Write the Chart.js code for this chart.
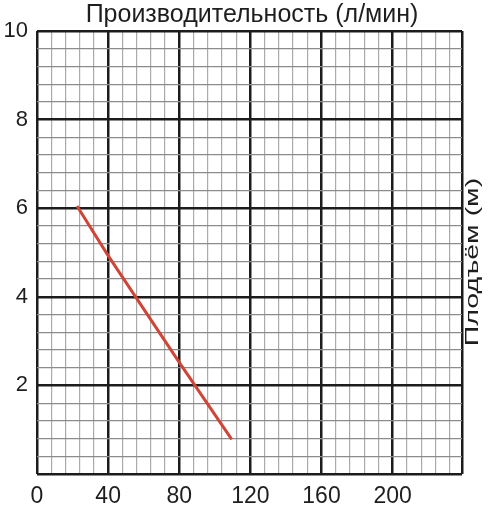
<!DOCTYPE html>
<html>
<head>
<meta charset="utf-8">
<script src="https://cdn.jsdelivr.net/npm/chart.js@4/dist/chart.umd.min.js"></script>
<style>
    html, body { margin: 0; padding: 0; background: #fff; }
</style>
</head>
<body>
<canvas id="chart" width="490" height="507"></canvas>
<script>
"use strict";

// pump curve
var flowValues = [22.5, 40, 80, 109.5];      // л/мин
var headValues = [6.05, 4.93, 2.52, 0.78];   // м

var xTickLabels = [0, 40, 80, 120, 160, 200];
var yTickLabels = [2, 4, 6, 8, 10];
var xTitle = 'Производительность (л/мин)';
var yTitle = 'Плодъём (м)';

var xMax = 239;

var isXMajor = function (v) {
    return v % 40 === 0 || v === xMax;
};
var isYMajor = function (v) {
    return Math.abs(v / 2 - Math.round(v / 2)) < 1e-6;
};

var titles = {
    id: 'axisTitles',
    afterDraw: function (chart) {
        var c = chart.ctx;
        c.save();
        c.fillStyle = '#1e1e1e';
        c.textAlign = 'center';
        c.font = '25px "Liberation Sans", Arial, sans-serif';
        c.textBaseline = 'alphabetic';
        c.fillText(xTitle, 252, 22);
        c.translate(473, 262);
        c.rotate(-Math.PI / 2);
        c.scale(1.5, 1);
        c.font = '19px "Liberation Sans", Arial, sans-serif';
        c.textBaseline = 'middle';
        c.fillText(yTitle, 0, 0);
        c.restore();
    }
};

new Chart(document.getElementById('chart'), {
    type: 'line',
    data: {
        datasets: [{
            data: flowValues.map(function (x, i) { return { x: x, y: headValues[i] }; }),
            borderColor: '#cf4538',
            borderWidth: 3,
            pointRadius: 0,
            tension: 0,
            fill: false
        }]
    },
    options: {
        responsive: false,
        animation: false,
        layout: { padding: { top: 31, right: 28, left: 0, bottom: 0 } },
        plugins: {
            legend: { display: false },
            tooltip: { enabled: false }
        },
        scales: {
            x: {
                type: 'linear',
                min: 0,
                max: xMax,
                afterBuildTicks: function (scale) {
                    var t = [];
                    for (var v = 0; v < xMax; v += 8) t.push({ value: v });
                    t.push({ value: xMax });
                    scale.ticks = t;
                },
                afterFit: function (scale) { scale.height = 33; },
                border: { display: false },
                grid: {
                    drawTicks: false,
                    color: function (ctx) { return isXMajor(ctx.tick.value) ? '#1c1c1c' : '#ababab'; },
                    lineWidth: function (ctx) { return isXMajor(ctx.tick.value) ? 2.5 : 1.2; }
                },
                ticks: {
                    autoSkip: false,
                    maxRotation: 0,
                    padding: 9,
                    color: '#1e1e1e',
                    font: { family: '"Liberation Sans", Arial, sans-serif', size: 23 },
                    callback: function (v) { return xTickLabels.indexOf(v) >= 0 ? String(v) : ''; }
                }
            },
            y: {
                min: 0,
                max: 10,
                afterBuildTicks: function (scale) {
                    var t = [];
                    for (var i = 0; i <= 25; i++) t.push({ value: Math.round(i * 4) / 10 });
                    scale.ticks = t;
                },
                afterFit: function (scale) { scale.width = 37; },
                border: { display: false },
                grid: {
                    drawTicks: false,
                    color: function (ctx) { return isYMajor(ctx.tick.value) ? '#1c1c1c' : '#8c8c8c'; },
                    lineWidth: function (ctx) { return isYMajor(ctx.tick.value) ? 2.5 : 1.2; }
                },
                ticks: {
                    autoSkip: false,
                    padding: 9,
                    color: '#1e1e1e',
                    font: { family: '"Liberation Sans", Arial, sans-serif', size: 22 },
                    callback: function (v) { return yTickLabels.indexOf(v) >= 0 ? String(v) : ''; }
                }
            }
        }
    },
    plugins: [titles]
});
</script>
</body>
</html>
